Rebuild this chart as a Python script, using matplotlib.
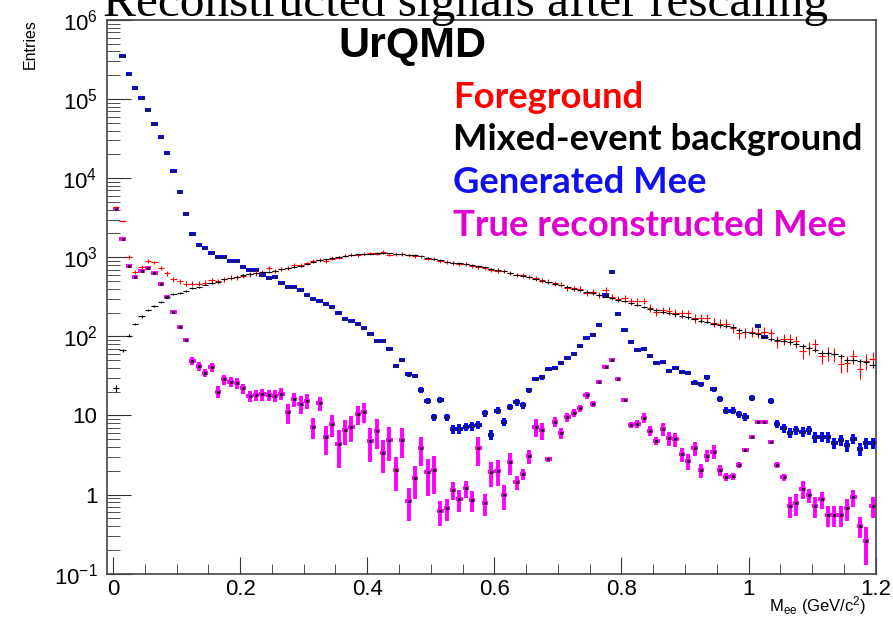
import numpy as np
import matplotlib
matplotlib.use("Agg")
import matplotlib.pyplot as plt
from matplotlib.ticker import FixedLocator, FuncFormatter, MultipleLocator, NullFormatter

plt.rcParams["font.family"] = ["Liberation Sans", "DejaVu Sans"]
plt.rcParams["mathtext.fontset"] = "custom"
plt.rcParams["mathtext.rm"] = "Liberation Sans"
plt.rcParams["mathtext.it"] = "Liberation Sans:italic"
plt.rcParams["mathtext.bf"] = "Liberation Sans:bold"

# invariant mass histograms, 120 bins of 10 MeV/c^2 from 0 to 1.2 GeV/c^2
bin_width = 0.01
mee = np.arange(120) * bin_width + bin_width / 2

foreground = [
    4300, 2870, 1010, 650, 745, 896, 862, 724, 626, 530,
    500, 463, 463, 463, 479, 510, 495, 530, 551, 557,
    578, 608, 626, 650, 730, 670, 703, 730, 804, 800,
    838, 896, 930, 900, 960, 990, 1050, 1080, 1060, 1110,
    1120, 1110, 1180, 1080, 1090, 1100, 1060, 1040, 1030, 960,
    960, 900, 880, 850, 820, 830, 780, 760, 730, 690,
    680, 670, 640, 600, 596, 567, 541, 515, 490, 468,
    449, 411, 404, 400, 356, 366, 333, 385, 317, 296,
    302, 279, 279, 282, 230, 205, 215, 209, 199, 195,
    195, 169, 169, 172, 149, 145, 145, 127, 110, 112,
    115, 111, 114, 109, 87, 92, 92, 87, 65, 72,
    79, 56, 61, 60, 45, 46, 56, 39, 49, 52,
]

mixed_event = [
    22, 66.5, 102, 143, 179, 213, 244, 269, 314, 340,
    356, 374, 408, 417, 452, 470, 490, 525, 551, 566,
    596, 613, 626, 644, 653, 675, 706, 730, 752, 785,
    828, 877, 914, 949, 982, 1014, 1042, 1066, 1085, 1097,
    1110, 1120, 1123, 1117, 1104, 1088, 1072, 1054, 1026, 988,
    949, 914, 877, 857, 838, 813, 788, 767, 743, 713,
    689, 661, 631, 604, 578, 558, 530, 506, 483, 461,
    440, 419, 399, 380, 366, 349, 333, 318, 304, 290,
    276, 262, 249, 236, 224, 214, 206, 197, 189, 182,
    174, 166, 158, 151, 145, 139, 135, 130, 120, 114,
    111, 107, 99, 92, 90, 88, 85, 81, 75, 72,
    67, 62, 61, 60, 56, 50, 50, 49, 48, 43,
]

generated = [
    np.nan, 3.5e5, 2.05e5, 1.39e5, 1.02e5, 7.2e4, 4.9e4, 3.3e4, 2.1e4, 1.24e4,
    6.6e3, 3.5e3, 1.95e3, 1.41e3, 1.32e3, 1.14e3, 1000, 1000, 896, 896,
    745, 695, 695, 601, 546, 567, 476, 417, 424, 385,
    330, 294, 276, 256, 237, 199, 164, 156, 143, 128,
    107, 87, 87, 68.5, 42, 50, 33, 31.5, 21, 15.2,
    9.5, 15.7, 9.5, 6.7, 6.8, 7.2, 7.3, 7.6, 10.6, 5.65,
    11.5, 8.3, 12.9, 14.6, 13.4, 20.9, 28.8, 30.3, 38.3, 40.1,
    46.4, 52.7, 60.3, 76, 95, 104, 140, 333, 644, 190,
    119, 85.5, 67, 69, 55.8, 45.6, 46.9, 36.4, 39.7, 35.4,
    34.4, 25.9, 24.7, 30.3, 21.6, 16.2, 11.5, 11.5, 10.4, 9.6,
    16.6, 134, 98, 15.2, 7.9, 6.9, 6.0, 6.5, 6.2, 6.5,
    5.3, 5.4, 5.3, 4.44, 4.9, 4.2, 5.1, 3.76, 4.44, 4.44,
]

true_reco = [
    4070, 1680, 774, 567, 675, 724, 626, 462, 314, 203,
    131, 91, 49, 42, 34.5, 40.5, 20, 28.6, 26.7, 25.5,
    22, 17.6, 18.1, 18.5, 18.1, 17.7, 18.8, 10.9, 16.1, 13.9,
    15.4, 7.2, 14.2, 5.3, 7.7, 4.3, 6.5, 7.2, 10.4, 11.1,
    4.75, 6.35, 3.38, 4.89, 2.04, 4.89, 0.83, 1.6, 3.84, 1.9,
    2.04, 0.62, 0.67, 1.14, 0.87, 1.2, 0.85, 3.84, 0.77, 1.9,
    2.0, 0.99, 2.55, 1.43, 1.82, 3.08, 7.2, 6.5, 2.8, 8.3,
    6.0, 9.5, 10.8, 12.3, 18.1, 13.9, 26.7, 41.3, 50, 28.8,
    15.5, 7.6, 7.9, 9.4, 6.4, 4.75, 6.7, 5.2, 5.0, 3.25,
    2.65, 3.84, 2.04, 3.1, 3.48, 2.04, 1.68, 1.71, 2.36, 3.65,
    5.3, 8.3, 8.3, 4.6, 2.36, 1.65, 0.72, 0.77, 1.18, 0.99,
    0.72, 0.87, 0.55, 0.55, 0.55, 0.67, 0.92, 0.40, 0.26, 0.72,
]

# relative uncertainty of the reconstructed cocktail (mixed weights per source)
true_reco_relerr = [
    0.02, 0.02, 0.02, 0.02, 0.02, 0.02, 0.02, 0.02, 0.02, 0.02,
    0.02, 0.02, 0.12, 0.12, 0.12, 0.12, 0.18, 0.15, 0.15, 0.15,
    0.15, 0.17, 0.17, 0.17, 0.17, 0.17, 0.17, 0.28, 0.20, 0.25,
    0.22, 0.30, 0.20, 0.40, 0.30, 0.50, 0.35, 0.35, 0.28, 0.28,
    0.45, 0.40, 0.45, 0.45, 0.45, 0.40, 0.45, 0.45, 0.40, 0.50,
    0.50, 0.35, 0.30, 0.25, 0.30, 0.25, 0.30, 0.40, 0.30, 0.35,
    0.35, 0.35, 0.30, 0.20, 0.15, 0.20, 0.25, 0.25, 0.08, 0.15,
    0.15, 0.12, 0.12, 0.10, 0.10, 0.08, 0.05, 0.04, 0.04, 0.04,
    0.05, 0.08, 0.12, 0.15, 0.15, 0.12, 0.18, 0.20, 0.20, 0.20,
    0.22, 0.20, 0.20, 0.18, 0.20, 0.15, 0.12, 0.10, 0.08, 0.06,
    0.05, 0.03, 0.03, 0.04, 0.08, 0.10, 0.30, 0.30, 0.25, 0.20,
    0.30, 0.25, 0.30, 0.30, 0.30, 0.30, 0.25, 0.30, 0.50, 0.30,
]

# per-entry weights of the rescaled histograms, error = sqrt(w * content)
weights = {"fg": 2.5, "mix": 0.2, "gen": 0.12}


def px(x, y):
    return x / 893, 1 - y / 623


fig = plt.figure(figsize=(8.93, 6.23), dpi=100)
ax = fig.add_axes([107.3 / 893, 1 - 573.6 / 623, (875.7 - 107.3) / 893, (573.6 - 20) / 623])


def draw_hist(values, err, color, lw, dot=False, z=2):
    v = np.asarray(values, dtype=float)
    ax.errorbar(mee, v, xerr=bin_width / 2, yerr=err, fmt="none",
                ecolor=color, elinewidth=lw, capsize=0, zorder=z)
    if dot:
        ax.plot(mee, v, ls="none", marker="s", ms=1.2, color="#222222", zorder=z + 0.1)


true_v = np.asarray(true_reco, dtype=float)
draw_hist(true_v, true_v * np.asarray(true_reco_relerr), "#ff00ff", 2.8, dot=True, z=2)
gen_v = np.asarray(generated, dtype=float)
draw_hist(gen_v, np.sqrt(weights["gen"] * gen_v), "#0000ff", 2.8, dot=True, z=3)
fg_v = np.asarray(foreground, dtype=float)
draw_hist(fg_v, np.sqrt(weights["fg"] * fg_v), "#ff0000", 0.8, z=4)
mix_v = np.asarray(mixed_event, dtype=float)
draw_hist(mix_v, np.sqrt(weights["mix"] * mix_v), "black", 0.8, z=5)

ax.set_yscale("log")
ax.set_xlim(-0.009, 1.2)
ax.set_ylim(0.1, 1e6)

ax.xaxis.set_major_locator(MultipleLocator(0.2))
ax.xaxis.set_minor_locator(MultipleLocator(0.05))
ax.xaxis.set_major_formatter(FuncFormatter(lambda v, p: "0" if abs(v) < 1e-9 else ("1" if abs(v - 1) < 1e-9 else f"{v:g}")))

decades = [10.0 ** e for e in range(-1, 7)]
minors = [m * d for d in decades[:-1] for m in range(2, 10)]
ax.yaxis.set_major_locator(FixedLocator(decades))
ax.yaxis.set_minor_locator(FixedLocator(minors))
ax.yaxis.set_minor_formatter(NullFormatter())


def decade_label(v, pos):
    e = int(round(np.log10(v)))
    if e == 0:
        return "1"
    if e == 1:
        return "10"
    return f"$10^{{{e}}}$"


ax.yaxis.set_major_formatter(FuncFormatter(decade_label))

ax.tick_params(which="both", direction="in", top=False, right=False, labelsize=16, color="#333333")
ax.tick_params(axis="y", which="major", length=17, pad=7)
ax.tick_params(axis="y", which="minor", length=9)
ax.tick_params(axis="x", which="major", length=12, pad=4)
ax.tick_params(axis="x", which="minor", length=7)
for s in ax.spines.values():
    s.set_color("#444444")
    s.set_linewidth(1.2)

fig.text(*px(866, 606), r"M$_{\mathrm{ee}}$ (GeV/c$^{2}$)", ha="right", va="center", fontsize=12)
fig.text(*px(30, 19), "Entries", rotation=90, ha="center", va="top", fontsize=11.5)

fig.text(*px(103, 16), "Reconstructed signals after rescaling", family="Liberation Serif",
         fontsize=35.6, ha="left", va="baseline")
fig.text(*px(412, 46), "UrQMD", fontsize=31, fontweight="bold", ha="center", va="center")

legend_rows = [
    ("Foreground", "#ff0000"),
    ("Mixed-event background", "black"),
    ("Generated Mee", "#1010ee"),
    ("True reconstructed Mee", "#e000d0"),
]
for k, (label, color) in enumerate(legend_rows):
    fig.text(*px(453, 97 + 43 * k), label, color=color, family=["Lato", "DejaVu Sans"],
             fontweight="bold", fontsize=26.3, ha="left", va="center")

fig.savefig("out.png", dpi=100)
